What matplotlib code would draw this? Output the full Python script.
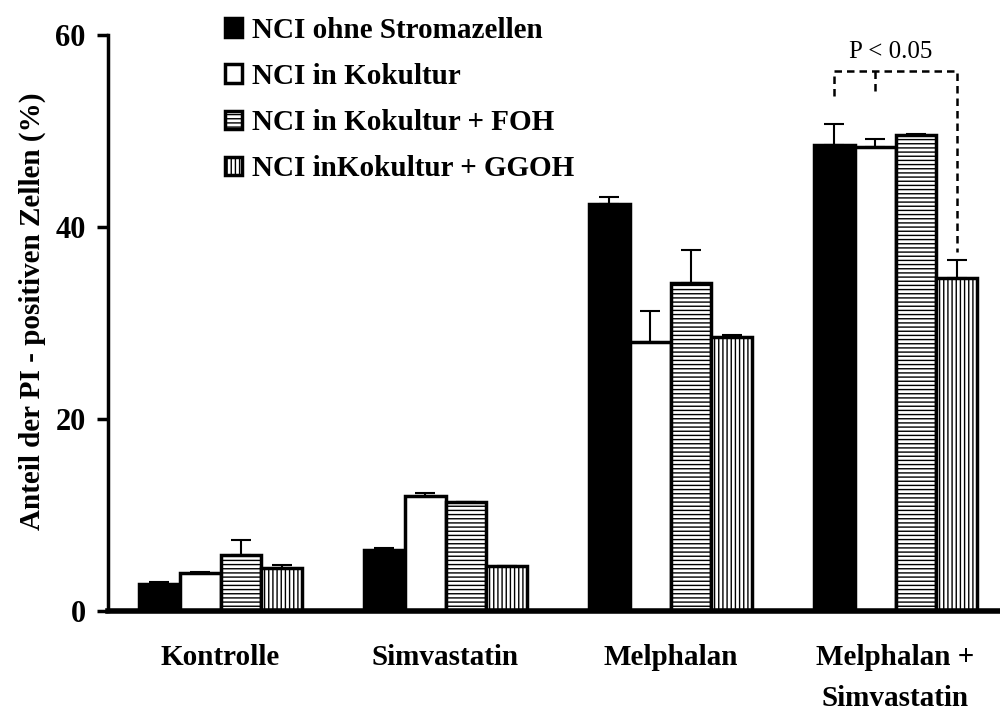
import matplotlib.pyplot as plt
import numpy as np

groups = ['Kontrolle', 'Simvastatin', 'Melphalan', 'Melphalan +\nSimvastatin']
series = ['NCI ohne Stromazellen', 'NCI in Kokultur', 'NCI in Kokultur + FOH', 'NCI inKokultur + GGOH']

ohne = [2.8, 6.4, 42.4, 48.5]
kokultur = [4.0, 12.0, 28.0, 48.3]
foh = [5.8, 11.4, 34.2, 49.6]
ggoh = [4.5, 4.7, 28.5, 34.7]

ohne_err = [0.2, 0.2, 0.7, 2.2]
kokultur_err = [0.1, 0.3, 3.2, 0.9]
foh_err = [1.6, 0.0, 3.4, 0.1]
ggoh_err = [0.3, 0.0, 0.3, 1.9]

plt.rcParams['font.family'] = 'Liberation Serif'
plt.rcParams['font.weight'] = 'bold'
plt.rcParams['hatch.linewidth'] = 1.0

fig = plt.figure(figsize=(10, 7.11), dpi=100)
ax = fig.add_axes([0.108, 0.1406, 0.892, 0.8102])

x = np.arange(len(groups))
w = 0.182
values = [ohne, kokultur, foh, ggoh]
errors = [ohne_err, kokultur_err, foh_err, ggoh_err]
faces = ['black', 'white', 'white', 'white']
hatches = [None, None, '----', '||||']

for i in range(4):
    pos = x + (i - 1.5) * w
    ax.bar(pos, values[i], w, color=faces[i], edgecolor='black', linewidth=2.5,
           hatch=hatches[i], label=series[i], zorder=2)
    ax.errorbar(pos, values[i], yerr=[np.zeros(4), errors[i]], fmt='none',
                ecolor='black', elinewidth=1.5, capsize=7, capthick=1.5, zorder=1)

# significance bracket over last group
xl = x[3] - 1.5 * w
xm = x[3] - 0.5 * w
xr = x[3] + 1.5 * w
top = 56.3
ax.plot([xl, xl, xr, xr], [53.6, top, top, 37.4], color='black', linestyle=(0, (3, 2)), linewidth=1.8)
ax.plot([xm, xm], [top, 53.6], color='black', linestyle=(0, (3, 2)), linewidth=1.8)
ax.text((xl + xr) / 2 - 0.02, 58.2, 'P < 0.05', ha='center', va='center', fontsize=18, fontweight='normal')

ax.set_ylim(0, 60)
ax.set_xlim(-0.5, (1000 - 108) / 225 - 0.5)
ax.set_yticks([0, 20, 40, 60])
ax.set_xticks(x)
ax.set_xticklabels(groups, fontsize=21, linespacing=1.65)
ax.tick_params(axis='x', length=0, pad=24)
ax.tick_params(axis='y', length=8, width=2.5, labelsize=22, pad=8)
ax.set_ylabel('Anteil der PI - positiven Zellen (%)', fontsize=21, fontweight='bold')
ax.yaxis.set_label_coords(-0.069, 0.52)

ax.spines['top'].set_visible(False)
ax.spines['right'].set_visible(False)
ax.spines['left'].set_linewidth(2.5)
ax.spines['bottom'].set_linewidth(4)

ax.legend(loc='upper left', bbox_to_anchor=(0.21, 0.997), bbox_transform=fig.transFigure,
          frameon=False, fontsize=21, handlelength=0.6, handleheight=0.6,
          handletextpad=0.35, labelspacing=0.66, borderpad=0)

plt.savefig('out.png', dpi=100)
